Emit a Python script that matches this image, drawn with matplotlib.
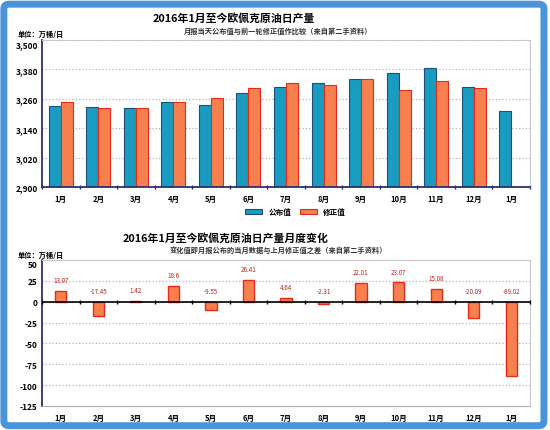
import matplotlib
matplotlib.use("Agg")
from matplotlib import pyplot as plt
from matplotlib.patches import FancyBboxPatch
import numpy as np

plt.rcParams['font.family'] = ['Noto Sans CJK SC', 'DejaVu Sans']

# DATA
months = ["1月", "2月", "3月", "4月", "5月", "6月", "7月", "8月", "9月", "10月", "11月", "12月", "1月"]
published = [3232, 3227, 3222, 3245, 3236, 3282, 3310, 3324, 3340, 3366, 3387, 3310, 3212]
revised = [3246, 3222, 3222, 3245, 3263, 3304, 3326, 3316, 3340, 3296, 3331, 3303, None]
change = [13.07, -17.45, 1.42, 18.6, -9.55, 26.41, 4.64, -2.31, 22.01, 23.07, 15.08, -20.09, -89.02]
change_labels = ["13.07", "-17.45", "1.42", "18.6", "-9.55", "26.41", "4.64", "-2.31", "22.01", "23.07", "15.08", "-20.09", "-89.02"]
top_ticks = [2900, 3020, 3140, 3260, 3380, 3500]
bottom_ticks = [-125, -100, -75, -50, -25, 0, 25, 50]

blue = "#1a9cc0"
blue_edge = "#1d4f7a"
orange = "#f8804f"
orange_edge = "#e52a1a"
navy = "#2b2f6e"
grid_c = "#a8a8a8"

fig = plt.figure(figsize=(5.5, 4.31), dpi=100)
fig.patch.set_facecolor("white")

# blue outer frame
frame = FancyBboxPatch((0.007, 0.01), 0.982, 0.978, boxstyle="round,pad=0,rounding_size=0.01",
                       transform=fig.transFigure, facecolor="white", edgecolor="#4a94d9",
                       linewidth=5, zorder=-10)
fig.patches.append(frame)

x = np.arange(len(months))


def style_axes(ax, ticks, fmt):
	ax.set_xlim(-0.5, len(months) - 0.5)
	ax.set_xticks(x)
	ax.set_xticklabels(months, fontsize=5.5, fontweight="bold")
	ax.set_xticks(np.arange(len(months) + 1) - 0.5, minor=True)
	ax.tick_params(axis="x", which="major", length=0, pad=5)
	ax.tick_params(axis="x", which="minor", length=3, direction="inout", color=navy, width=1)
	ax.set_yticks(ticks)
	labels = ax.set_yticklabels([fmt(t) for t in ticks], fontsize=6, fontweight="bold")
	# topmost label sits just below the top edge, as in the original
	labels[-1].set_verticalalignment("top")
	ax.tick_params(axis="y", length=0, pad=3)
	ax.spines["left"].set_color(navy)
	ax.spines["left"].set_linewidth(1.3)
	ax.spines["top"].set_color("#c8c8c8")
	ax.spines["right"].set_color("#c8c8c8")
	ax.grid(axis="y", color=grid_c, linestyle=(0, (1, 2)), linewidth=0.8)
	ax.set_axisbelow(True)


# Top chart
ax1 = fig.add_axes([42 / 550, 1 - 188 / 431, 488 / 550, 147 / 431])
w = 0.32
ax1.bar(x - w / 2, published, width=w, color=blue, edgecolor=blue_edge, linewidth=0.8, label="公布值")
rev_x = [i + w / 2 for i, v in enumerate(revised) if v is not None]
rev_v = [v for v in revised if v is not None]
ax1.bar(rev_x, rev_v, width=w, color=orange, edgecolor=orange_edge, linewidth=0.8, label="修正值")
ax1.set_ylim(2900, 3500)
style_axes(ax1, top_ticks, lambda t: f"{t:,}")
ax1.spines["bottom"].set_color(navy)
ax1.spines["bottom"].set_linewidth(1.3)
ax1.legend(loc="upper center", bbox_to_anchor=(0.52, -0.09), ncol=2, frameon=False,
           handlelength=2.2, handleheight=0.5, columnspacing=1.2,
           prop={"size": 5.5, "weight": "bold"})

fig.text(234 / 550, 1 - 18 / 431, "2016年1月至今欧佩克原油日产量", ha="center", va="center",
         fontsize=7.8, fontweight="bold")
fig.text(278 / 550, 1 - 31 / 431, "月报当天公布值与前一轮修正值作比较（来自第二手资料）", ha="center",
         va="center", fontsize=5.2, fontweight="bold", color="#333333")
fig.text(18 / 550, 1 - 34 / 431, "单位：万桶/日", ha="left", va="center", fontsize=5.2, fontweight="bold")

# Bottom chart
ax2 = fig.add_axes([42 / 550, 1 - 407 / 431, 488 / 550, 146 / 431])
ax2.bar(x, change, width=0.3, color=orange, edgecolor=orange_edge, linewidth=1)
ax2.axhline(0, color="black", linewidth=1.2, zorder=3)
ax2.set_ylim(-125, 50)
style_axes(ax2, bottom_ticks, lambda t: f"{t}")
ax2.tick_params(axis="x", which="minor", length=0)
ax2.spines["bottom"].set_color("#b0b0b0")
for i, (v, lab) in enumerate(zip(change, change_labels)):
	ax2.annotate(lab, (i, max(v, 0)), xytext=(0, 5), textcoords="offset points",
	             ha="center", va="bottom", fontsize=4.5, color="#c0201a")
# tick marks on the zero line at category boundaries
ax2.plot(np.arange(len(months) + 1) - 0.5, np.zeros(len(months) + 1), linestyle="none",
         marker="|", markersize=3, color="black", zorder=4, clip_on=False)

fig.text(226 / 550, 1 - 238 / 431, "2016年1月至今欧佩克原油日产量月度变化", ha="center", va="center",
         fontsize=7.8, fontweight="bold")
fig.text(278 / 550, 1 - 250 / 431, "变化值即月报公布的当月数据与上月修正值之差（来自第二手资料）", ha="center",
         va="center", fontsize=5.2, fontweight="bold", color="#333333")
fig.text(18 / 550, 1 - 255 / 431, "单位：万桶/日", ha="left", va="center", fontsize=5.2, fontweight="bold")

fig.savefig("out.png", dpi=100)
